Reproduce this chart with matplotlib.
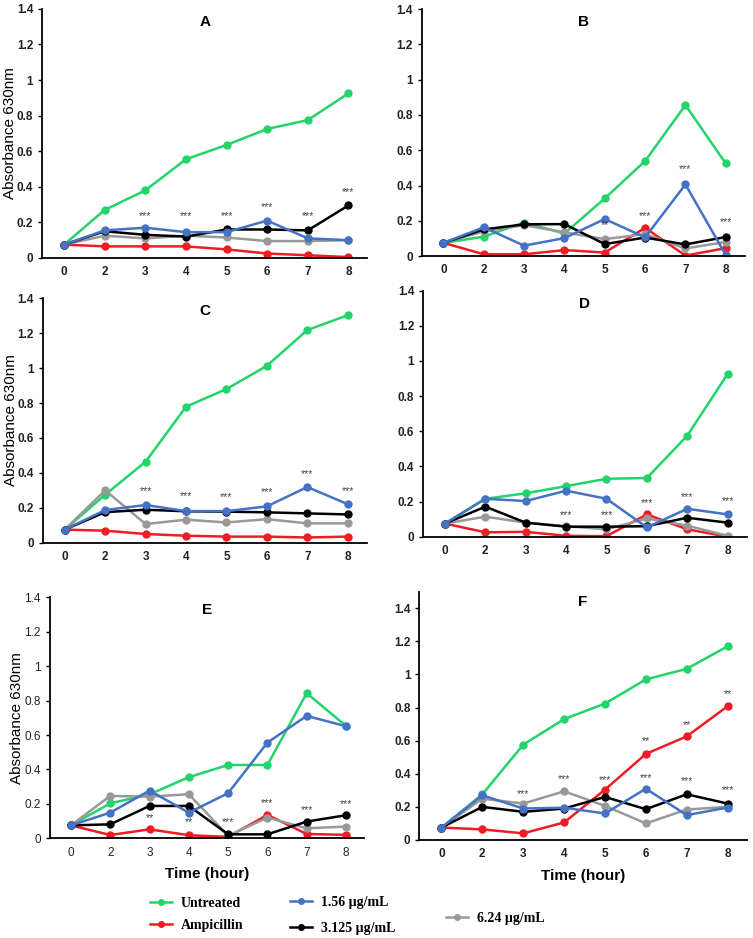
import numpy as np
import matplotlib
matplotlib.use("Agg")
import matplotlib.pyplot as plt
from matplotlib.lines import Line2D

plt.rcParams['font.family'] = ['Liberation Sans', 'DejaVu Sans']

hours = ["0", "2", "3", "4", "5", "6", "7", "8"]
panels = ["A", "B", "C", "D", "E", "F"]

# absorbance values, one list per panel
untreated = {
    "A": [0.075, 0.27, 0.38, 0.555, 0.635, 0.725, 0.775, 0.925],
    "B": [0.075, 0.11, 0.19, 0.128, 0.327, 0.539, 0.856, 0.525],
    "C": [0.075, 0.275, 0.464, 0.779, 0.88, 1.013, 1.218, 1.303],
    "D": [0.075, 0.216, 0.247, 0.288, 0.33, 0.334, 0.575, 0.926],
    "E": [0.075, 0.203, 0.255, 0.355, 0.426, 0.426, 0.843, 0.653],
    "F": [0.075, 0.276, 0.576, 0.73, 0.824, 0.97, 1.034, 1.17],
}
ampicillin = {
    "A": [0.075, 0.065, 0.065, 0.065, 0.048, 0.025, 0.015, 0.005],
    "B": [0.075, 0.01, 0.01, 0.034, 0.02, 0.16, 0.003, 0.045],
    "C": [0.075, 0.069, 0.05, 0.04, 0.035, 0.035, 0.03, 0.035],
    "D": [0.075, 0.025, 0.028, 0.005, 0.003, 0.127, 0.042, 0.0],
    "E": [0.075, 0.019, 0.052, 0.018, 0.008, 0.136, 0.025, 0.02],
    "F": [0.075, 0.064, 0.04, 0.106, 0.304, 0.52, 0.626, 0.808],
}
c156 = {
    "A": [0.075, 0.155, 0.17, 0.145, 0.145, 0.21, 0.11, 0.10],
    "B": [0.075, 0.163, 0.059, 0.102, 0.21, 0.106, 0.406, 0.006],
    "C": [0.075, 0.187, 0.216, 0.181, 0.181, 0.208, 0.319, 0.221],
    "D": [0.075, 0.216, 0.203, 0.262, 0.216, 0.053, 0.159, 0.127],
    "E": [0.075, 0.149, 0.277, 0.149, 0.262, 0.556, 0.711, 0.651],
    "F": [0.075, 0.27, 0.19, 0.195, 0.16, 0.31, 0.15, 0.196],
}
c3125 = {
    "A": [0.075, 0.15, 0.13, 0.12, 0.16, 0.16, 0.155, 0.295],
    "B": [0.075, 0.151, 0.18, 0.181, 0.068, 0.105, 0.066, 0.108],
    "C": [0.075, 0.175, 0.189, 0.18, 0.178, 0.174, 0.168, 0.162],
    "D": [0.075, 0.171, 0.08, 0.057, 0.057, 0.06, 0.108, 0.08],
    "E": [0.075, 0.081, 0.188, 0.188, 0.023, 0.023, 0.097, 0.134],
    "F": [0.075, 0.2, 0.17, 0.19, 0.26, 0.186, 0.276, 0.22],
}
c624 = {
    "A": [0.075, 0.125, 0.11, 0.125, 0.115, 0.095, 0.095, 0.10],
    "B": [0.075, 0.14, 0.175, 0.135, 0.096, 0.125, 0.043, 0.08],
    "C": [0.075, 0.30, 0.107, 0.132, 0.116, 0.135, 0.111, 0.111],
    "D": [0.075, 0.114, 0.08, 0.06, 0.042, 0.104, 0.063, 0.005],
    "E": [0.075, 0.246, 0.242, 0.256, 0.015, 0.12, 0.058, 0.068],
    "F": [0.075, 0.25, 0.22, 0.294, 0.206, 0.10, 0.184, 0.20],
}

# significance marks: (hour index, height, text)
stars = {
    "A": [(2, 0.21, "***"), (3, 0.21, "***"), (4, 0.21, "***"), (5, 0.26, "***"),
          (6, 0.21, "***"), (7, 0.34, "***")],
    "B": [(4, 0.15, "**"), (5, 0.20, "***"), (6, 0.465, "***"), (7, 0.166, "***")],
    "C": [(2, 0.27, "***"), (3, 0.24, "***"), (4, 0.235, "***"), (5, 0.26, "***"),
          (6, 0.365, "***"), (7, 0.27, "***")],
    "D": [(3, 0.094, "***"), (4, 0.094, "***"), (5, 0.165, "***"), (6, 0.199, "***"),
          (7, 0.174, "***")],
    "E": [(2, 0.09, "**"), (3, 0.064, "**"), (4, 0.064, "***"), (5, 0.174, "***"),
          (6, 0.135, "***"), (7, 0.17, "***")],
    "F": [(2, 0.25, "***"), (3, 0.34, "***"), (4, 0.334, "***"), (5, 0.344, "***"),
          (5, 0.57, "**"), (6, 0.326, "***"), (6, 0.664, "**"), (7, 0.27, "***"),
          (7, 0.85, "**")],
}

series = [
    ("Untreated", untreated, "#22d46a"),
    ("Ampicillin", ampicillin, "#ee1c24"),
    ("6.24 \u00b5g/mL", c624, "#999999"),
    ("3.125 \u00b5g/mL", c3125, "#000000"),
    ("1.56 \u00b5g/mL", c156, "#4472c4"),
]

# axes boxes in figure fractions [left, bottom, width, height]
boxes = {
    "A": [0.056, 0.725, 0.432, 0.2655],
    "B": [0.560, 0.727, 0.429, 0.2633],
    "C": [0.057, 0.4214, 0.430, 0.2606],
    "D": [0.562, 0.4278, 0.4295, 0.2623],
    "E": [0.066, 0.1063, 0.418, 0.2569],
    "F": [0.557, 0.1045, 0.4348, 0.2647],
}
letter_y = {"A": 0.975, "B": 0.975, "C": 0.975, "D": 0.975, "E": 0.975, "F": 0.985}

fig = plt.figure(figsize=(7.53, 9.38), dpi=100)
x = np.arange(len(hours))

for p in panels:
    ax = fig.add_axes(boxes[p])
    for name, data, col in series:
        ax.plot(x, data[p], color=col, lw=1.8, marker="o", ms=5, label=name)
    for i, h, s in stars[p]:
        ax.text(x[i], h, s, ha="center", va="bottom", fontsize=7.5, color="#444444")
    top = 1.5 if p == "F" else 1.4
    ax.set_ylim(0, top)
    ax.set_xlim(-0.54, 7.47)
    ax.set_yticks([0, 0.2, 0.4, 0.6, 0.8, 1.0, 1.2, 1.4])
    ax.set_yticklabels(["0", "0.2", "0.4", "0.6", "0.8", "1", "1.2", "1.4"])
    ax.set_xticks(x)
    ax.set_xticklabels(hours)
    weight = "normal" if p == "E" else "bold"
    ax.tick_params(axis="x", length=0, pad=6, labelsize=8.5)
    ax.tick_params(axis="y", length=3, width=1, direction="out", labelsize=8.5)
    for lab in ax.get_xticklabels() + ax.get_yticklabels():
        lab.set_fontweight(weight)
        lab.set_color("#222222")
    ax.spines["top"].set_visible(False)
    ax.spines["right"].set_visible(False)
    ax.spines["left"].set_linewidth(1.3)
    ax.spines["bottom"].set_linewidth(1.3)
    ax.text(0.5, letter_y[p], p, transform=ax.transAxes,
            ha="center", va="top", fontsize=11, fontweight="bold")
    if p in ("A", "C", "E"):
        ax.set_ylabel("Absorbance 630nm", fontsize=11, labelpad=0)
    if p in ("E", "F"):
        ax.set_xlabel("Time (hour)", fontsize=11, fontweight="bold", labelpad=6)

legfont = {"family": "Liberation Serif", "weight": "bold", "size": 10}
leg_pos = {
    "Untreated": (0.192, 0.037),
    "Ampicillin": (0.192, 0.013),
    "1.56 \u00b5g/mL": (0.378, 0.038),
    "3.125 \u00b5g/mL": (0.378, 0.010),
    "6.24 \u00b5g/mL": (0.585, 0.021),
}
for name, data, col in series:
    h = Line2D([], [], color=col, lw=1.8, marker="o", ms=4)
    fig.legend(handles=[h], labels=[name], loc="center left",
               bbox_to_anchor=leg_pos[name], frameon=False, prop=legfont,
               handlelength=1.6, handletextpad=0.6, borderaxespad=0)

fig.savefig("out.png", dpi=100)
